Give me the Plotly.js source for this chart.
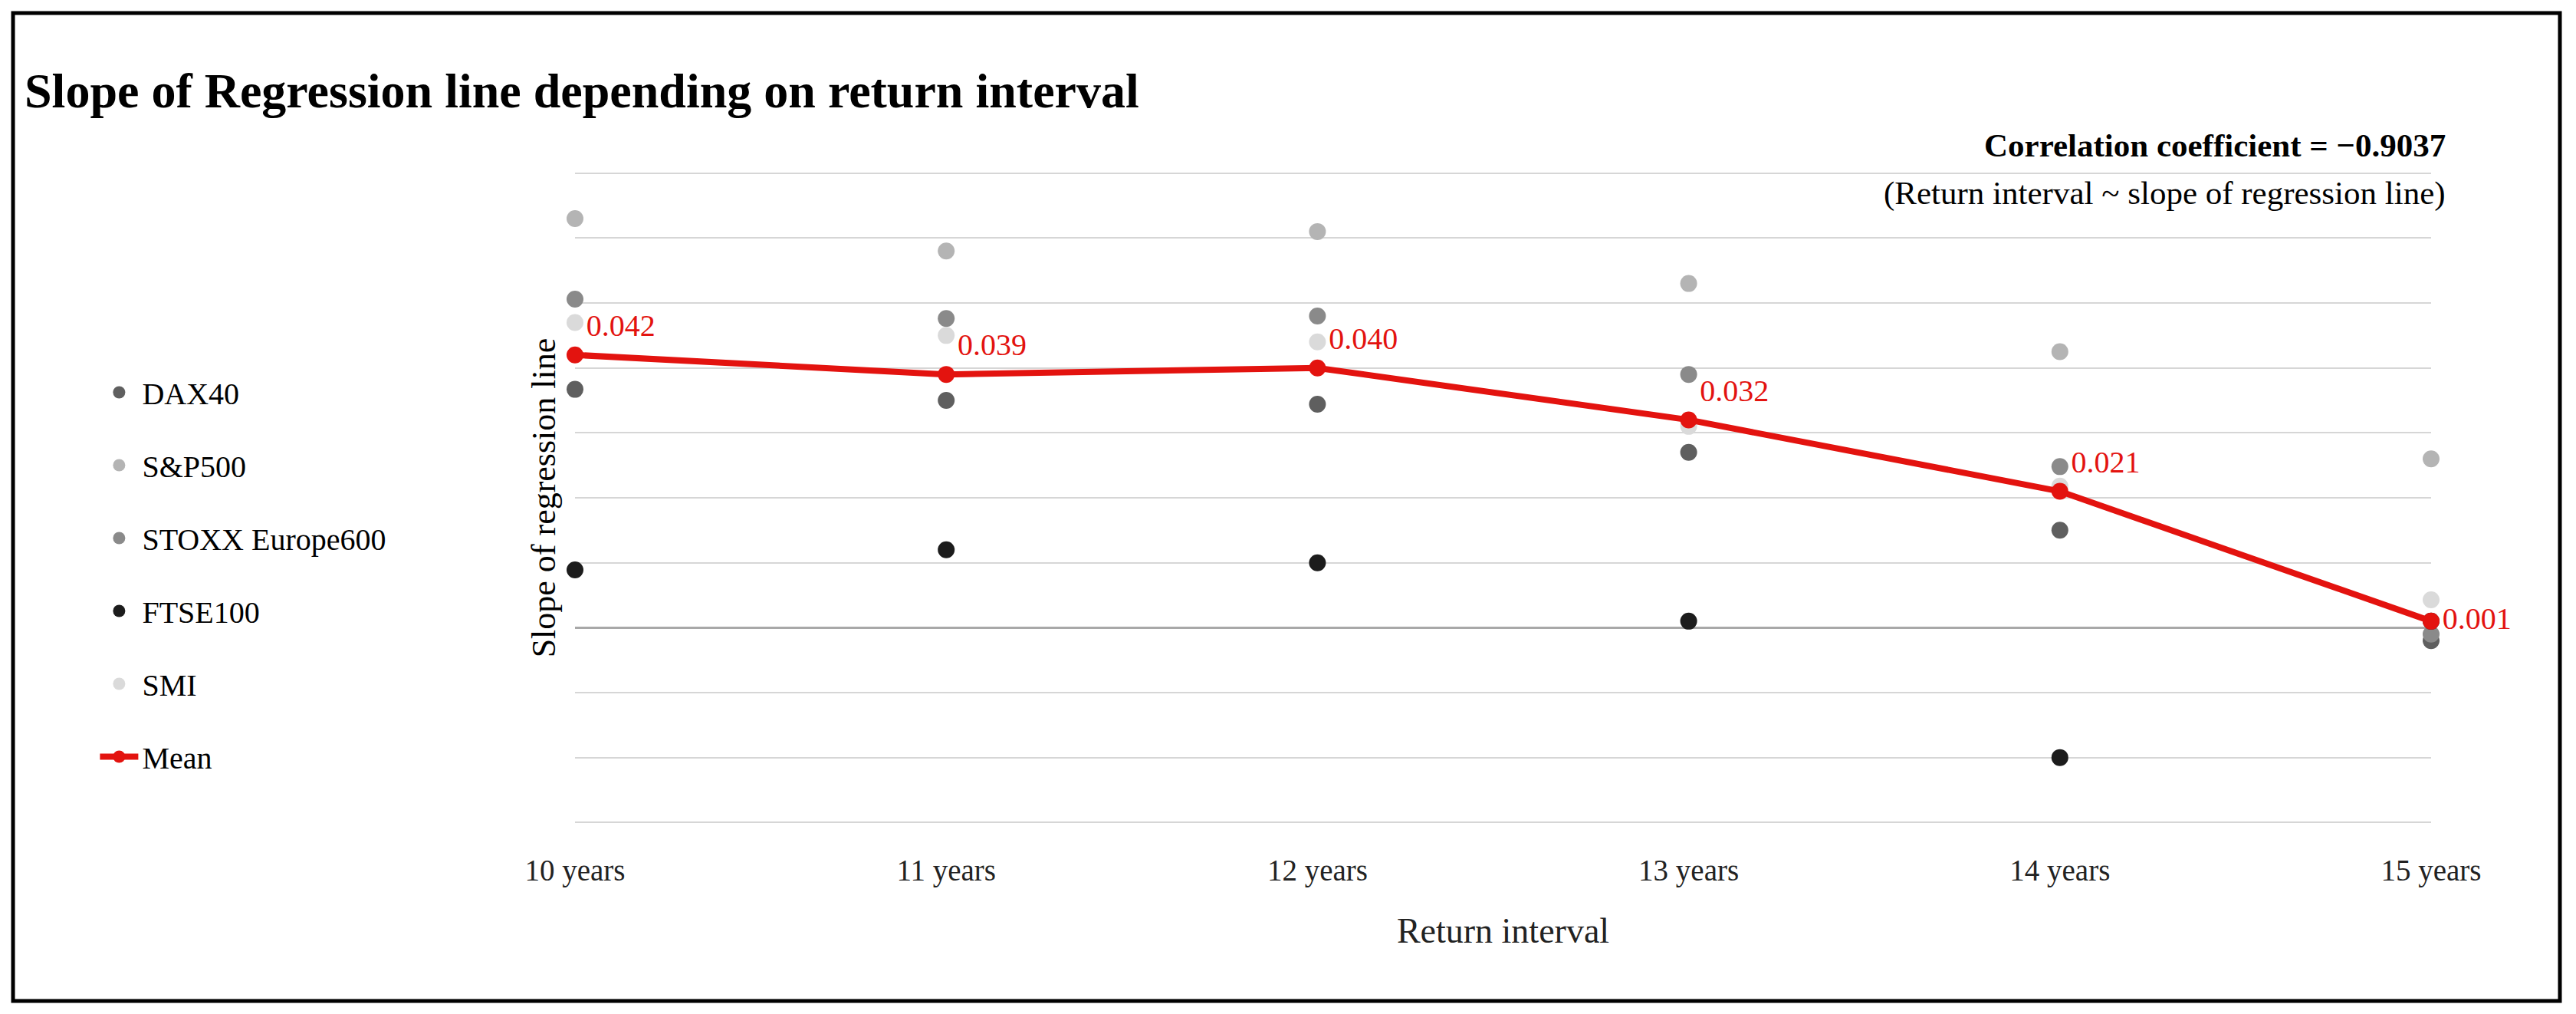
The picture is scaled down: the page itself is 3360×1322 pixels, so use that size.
<!DOCTYPE html>
<html><head><meta charset="utf-8">
<script src="https://cdn.plot.ly/plotly-3.0.1.min.js"></script>
<style>body{margin:0;background:#fff}#c{width:3360px;height:1322px}</style>
</head><body><div id="c"></div>
<script>
const categories = ["10 years","11 years","12 years","13 years","14 years","15 years"];
const dax40   = [0.0367, 0.0350, 0.0344, 0.0270, 0.0150, -0.0020];
const sp500   = [0.0630, 0.0580, 0.0610, 0.0530, 0.0425, 0.0260];
const stoxx600= [0.0506, 0.0476, 0.0480, 0.0390, 0.0248, -0.0010];
const ftse100 = [0.0089, 0.0120, 0.0100, 0.0010, -0.0200, 0.0010];
const smi     = [0.0470, 0.0450, 0.0440, 0.0310, 0.0218, 0.0043];
const mean    = [0.042, 0.039, 0.040, 0.032, 0.021, 0.001];
const meanLabels = mean.map(v => v.toFixed(3));

const font = "Liberation Serif, DejaVu Serif, serif";
function sc(name, y, color, g){
  return {type:"scatter", mode:"markers", name:name, x:categories, y:y, legendgroup:g,
    marker:{color:color, size:22}, cliponaxis:false};
}
const traces = [
  sc("DAX40", dax40, "#5f5f5f","a"),
  sc("S&P500", sp500, "#b4b4b4","b"),
  sc("STOXX Europe600", stoxx600, "#8a8a8a","c"),
  sc("FTSE100", ftse100, "#1c1c1c","d"),
  sc("SMI", smi, "#dadada","e"),
  {type:"scatter", mode:"lines+markers+text", name:"Mean", x:categories, y:mean, legendgroup:"f",
   line:{color:"#e3130f", width:8}, marker:{color:"#e3130f", size:22}, cliponaxis:false,
   text:meanLabels, textposition:["top right","top right","top right","top right","top right","middle right"],
   textfont:{color:"#e3130f", size:40, family:font}}
];
const layout = {
  width:3360, height:1322, paper_bgcolor:"#fff", plot_bgcolor:"#fff",
  margin:{l:750, r:189, t:224, b:248},
  font:{family:font, color:"#111"},
  title:{text:"<b>Slope of Regression line depending on return interval</b>", x:32/3360, xanchor:"left", xref:"container",
    y:1-118/1322, yanchor:"middle", yref:"container", font:{size:64, family:font, color:"#000"}},
  xaxis:{range:[0,5], showgrid:false, zeroline:false, showline:false, ticks:"",
    tickfont:{size:39, family:font, color:"#222"}, ticklabelstandoff:34,
    title:{text:"Return interval", font:{size:46, family:font, color:"#222"}, standoff:40}},
  yaxis:{range:[-0.0302,0.0702], tickvals:[-0.03,-0.02,-0.01,0,0.01,0.02,0.03,0.04,0.05,0.06,0.07],
    showticklabels:false, gridcolor:"#d6d6d6", gridwidth:2,
    zeroline:true, zerolinecolor:"#a8a8a8", zerolinewidth:3, showline:false,
    title:{text:"Slope of regression line", font:{size:44, family:font, color:"#000"}, standoff:10}},
  legend:{x:-0.258, xanchor:"left", y:0.70, yanchor:"top", traceorder:"grouped", tracegroupgap:40,
    font:{size:40, family:font, color:"#000"}, itemwidth:50},
  showlegend:true,
  annotations:[
    {xref:"paper", yref:"paper", x:(3192-750)/2421, y:(1074-190)/850, xanchor:"right", yanchor:"middle", showarrow:false,
     text:"<b>Correlation coefficient = −0.9037</b>", font:{size:43, family:font, color:"#000"}},
    {xref:"paper", yref:"paper", x:(3192-750)/2421, y:(1074-252)/850, xanchor:"right", yanchor:"middle", showarrow:false,
     text:"(Return interval ~ slope of regression line)", font:{size:43, family:font, color:"#000"}}
  ],
  shapes:[{type:"rect", xref:"paper", yref:"paper", x0:(17-750)/2421, x1:(3339-750)/2421, y0:(1074-1305)/850, y1:(1074-17)/850,
    line:{color:"#000", width:5}}]
};
Plotly.newPlot("c", traces, layout, {displayModeBar:false});
</script></body></html>
